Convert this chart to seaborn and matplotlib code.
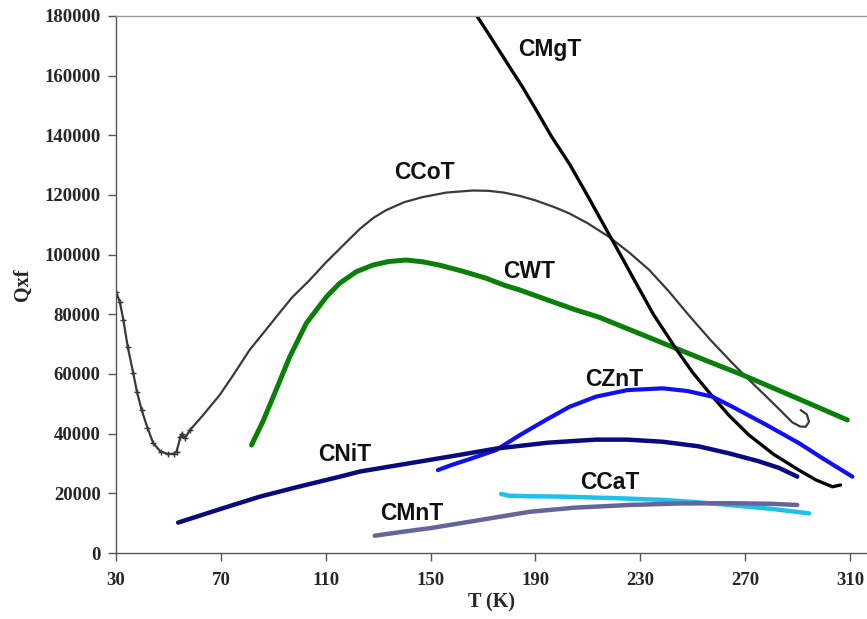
import numpy as np
import pandas as pd
import seaborn as sns
import matplotlib.pyplot as plt

# Qxf versus temperature (Q in units of 1000)
ccot_t = [30, 31.5, 32.8, 34.5, 36.6, 38, 39.8, 42, 44.2, 47, 49.9, 52, 53.1, 54.6, 55.2, 56.3,
          58.2, 63, 69.6, 75, 81, 86, 91.2, 97, 103.9, 110, 118, 123, 128, 133, 140, 147, 156,
          166, 172, 178, 184, 190, 197, 203, 210, 218, 225.8, 233.4, 241, 248.7, 257, 265.2,
          272, 277.9, 283, 288, 291, 293.1, 294.4, 293.5, 291.2]
ccot_q = [87.6, 84, 78.1, 69, 60.2, 54, 47.9, 42, 36.8, 34, 33.2, 33.3, 34.0, 39.0, 40, 38.5,
          41.2, 46, 53, 60, 68.1, 73.5, 79.2, 85.5, 91.5, 97.3, 104.3, 108.6, 112.2, 114.9,
          117.6, 119.3, 120.8, 121.5, 121.4, 120.8, 119.7, 118.2, 116.0, 113.8, 110.5, 106,
          100.7, 94.9, 87.6, 79.5, 71.2, 63.6, 57.6, 52.6, 48.2, 43.8, 42.4, 42.3, 44, 46.5, 47.9]

cwt_t = [81.7, 86, 90, 96.3, 102.6, 106.5, 110.3, 115.3, 121.7, 128, 134, 140.7, 147, 153.4,
         162, 171.2, 178, 183.9, 195, 205, 214.4, 229, 243.6, 256, 269, 289, 309]
cwt_q = [36.2, 44, 52.4, 65.8, 77, 81.5, 85.9, 90.4, 94.3, 96.5, 97.7, 98.2, 97.6, 96.5, 94.5,
         92.1, 89.8, 88.2, 84.7, 81.6, 79.0, 73.8, 68.6, 64.2, 59.7, 52.2, 44.6]

cmgt_t = [167.4, 173, 180.1, 185, 190.3, 196, 203, 210, 218.2, 223.3, 227.1, 235, 243.6, 250,
          257.5, 264, 271.5, 281, 290.5, 297, 303.3, 306.4]
cmgt_q = [180.4, 172.8, 163, 156.3, 148.5, 139.8, 130.4, 119.6, 106.6, 98.6, 92.5, 80.0, 68.5,
          60.5, 52.5, 46.0, 39.5, 33.0, 27.8, 24.5, 22.2, 22.8]

cznt_t = [152.8, 158, 165, 175, 184, 194, 203, 213.1, 225, 238.5, 248, 257.5, 265.2, 278, 290.6,
          300, 310.9]
cznt_q = [27.8, 29.5, 31.5, 34.5, 39.5, 44.6, 49, 52.4, 54.6, 55.2, 54.3, 52.4, 49, 43, 36.8,
          31.5, 25.6]

cnit_t = [53.7, 70, 84.9, 100, 115, 123, 140, 158.5, 175, 195, 213, 225, 238.5, 252, 263.9, 275,
          283, 289.9]
cnit_q = [10.2, 14.8, 18.9, 22.3, 25.5, 27.3, 29.8, 32.5, 35.0, 37.0, 38.0, 38.0, 37.3, 35.8,
          33.4, 30.8, 28.5, 25.6]

ccat_t = [176.9, 180, 190, 200.4, 220, 238.5, 252, 263.9, 280, 294.4]
ccat_q = [19.8, 19.2, 19.0, 18.9, 18.4, 17.8, 17.0, 16.1, 14.8, 13.3]

cmnt_t = [128.7, 140, 149.6, 165, 187.7, 205, 225.8, 245, 263.9, 280, 289.9]
cmnt_q = [5.8, 7.2, 8.3, 10.5, 13.8, 15.2, 16.1, 16.6, 16.7, 16.5, 16.1]

x_ticks = [30, 70, 110, 150, 190, 230, 270, 310]
y_ticks = [0, 20000, 40000, 60000, 80000, 100000, 120000, 140000, 160000, 180000]

# name -> (T, Q, colour, width, label position)
series = {
    "CCoT": (ccot_t, ccot_q, "#3a3a3a", 1.6, (147.7, 127.7)),
    "CWT": (cwt_t, cwt_q, "#0a800a", 3.6, (187.7, 94.2)),
    "CMgT": (cmgt_t, cmgt_q, "#050505", 2.4, (195.4, 168.6)),
    "CZnT": (cznt_t, cznt_q, "#1010f5", 3.0, (220.0, 58.3)),
    "CNiT": (cnit_t, cnit_q, "#0a0a80", 3.2, (117.2, 32.9)),
    "CCaT": (ccat_t, ccat_q, "#1ec0ee", 3.2, (218.2, 23.8)),
    "CMnT": (cmnt_t, cmnt_q, "#65659a", 3.2, (142.8, 13.4)),
}

sns.set_theme(style="white")
serif = ["Liberation Serif", "DejaVu Serif"]
sans = ["Liberation Sans", "DejaVu Sans"]

fig = plt.figure(figsize=(8.67, 6.19), dpi=100)
ax = fig.add_axes([0.1338, 0.1066, 0.8662, 0.8676])

for name, (t, q, color, lw, pos) in series.items():
    df = pd.DataFrame({"T": t, "Q": np.array(q) * 1000})
    sns.lineplot(data=df, x="T", y="Q", sort=False, estimator=None, color=color,
                 linewidth=lw, ax=ax)
    ax.text(pos[0], pos[1] * 1000, name, ha="center", va="center", fontsize=16.5,
            fontweight="bold", family=sans, color="#111111")

# small point markers on the low-temperature part of CCoT
low = pd.DataFrame({"T": ccot_t[:17], "Q": np.array(ccot_q[:17]) * 1000})
sns.scatterplot(data=low, x="T", y="Q", marker="+", s=14, color="#333333", linewidth=1.0, ax=ax)

ax.set_xlim(30, 316.5)
ax.set_ylim(0, 180000)
ax.set_xticks(x_ticks)
ax.set_yticks(y_ticks)
ax.set_xticklabels([str(v) for v in x_ticks], fontsize=13.5, fontweight="bold", family=serif)
ax.set_yticklabels([str(v) for v in y_ticks], fontsize=13.5, fontweight="bold", family=serif)
ax.set_xlabel("T (K)", fontsize=14.5, fontweight="bold", family=serif, labelpad=2)
ax.set_ylabel("Qxf", fontsize=14.5, fontweight="bold", family=serif, labelpad=8)
ax.tick_params(axis="both", direction="out", length=6, width=1, color="#555555", pad=5,
               bottom=True, left=True)
ax.tick_params(axis="x", pad=8)

ax.spines["right"].set_visible(False)
ax.spines["top"].set_color("#999999")
ax.spines["top"].set_linewidth(1.0)
for side in ["left", "bottom"]:
    ax.spines[side].set_color("#555555")
    ax.spines[side].set_linewidth(1.0)

fig.savefig("out.png", dpi=100)
